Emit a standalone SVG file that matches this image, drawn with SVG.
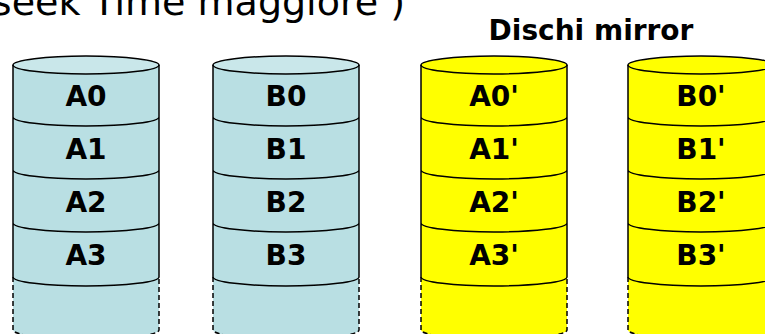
<svg xmlns="http://www.w3.org/2000/svg" width="765" height="334" viewBox="0 0 765 334">
<style>
.body{stroke:none}
.blue .body{fill:#B9DFE3}
.blue .top{fill:#C9E7EA}
.yellow .body{fill:#FFFF00}
.yellow .top{fill:#FFFF00}
.top,.ln{stroke:#000;stroke-width:1.5;fill:none}
.top{stroke-width:1.5}
.dash{stroke:#000;stroke-width:1.5;fill:none;stroke-dasharray:5 3}
.lbl{font-family:"DejaVu Sans",sans-serif;font-weight:bold;font-size:28px;fill:#000;text-anchor:middle}
.title{font-family:"DejaVu Sans",sans-serif;font-weight:bold;font-size:28px;fill:#000;text-anchor:middle}
.head{font-family:"DejaVu Sans",sans-serif;font-size:38px;fill:#000;text-anchor:end}
</style>
<rect width="765" height="334" fill="#fff"/>
<text class="head" x="405" y="15">seek Time maggiore )</text>
<text class="title" x="591" y="40">Dischi mirror</text>

<g id="diskA" class="blue">
<path class="body" d="M13,65 L13,330 A73,9 0 0 0 159,330 L159,65 Z"/>
<ellipse class="top" cx="86" cy="65" rx="73" ry="9"/>
<path class="ln" d="M13,65 V277 M159,65 V277 M13,117 A73,9 0 0 0 159,117 M13,170 A73,9 0 0 0 159,170 M13,223 A73,9 0 0 0 159,223 M13,277 A73,9 0 0 0 159,277"/>
<path class="dash" d="M13,277 V330 A73,9 0 0 0 159,330 V277"/>
<text class="lbl" x="86" y="106">A0</text>
<text class="lbl" x="86" y="159">A1</text>
<text class="lbl" x="86" y="212">A2</text>
<text class="lbl" x="86" y="265">A3</text>
</g>

<g id="diskB" class="blue">
<path class="body" d="M213,65 L213,330 A73,9 0 0 0 359,330 L359,65 Z"/>
<ellipse class="top" cx="286" cy="65" rx="73" ry="9"/>
<path class="ln" d="M213,65 V277 M359,65 V277 M213,117 A73,9 0 0 0 359,117 M213,170 A73,9 0 0 0 359,170 M213,223 A73,9 0 0 0 359,223 M213,277 A73,9 0 0 0 359,277"/>
<path class="dash" d="M213,277 V330 A73,9 0 0 0 359,330 V277"/>
<text class="lbl" x="286" y="106">B0</text>
<text class="lbl" x="286" y="159">B1</text>
<text class="lbl" x="286" y="212">B2</text>
<text class="lbl" x="286" y="265">B3</text>
</g>

<g id="mirrorA" class="yellow">
<path class="body" d="M421,65 L421,330 A73,9 0 0 0 567,330 L567,65 Z"/>
<ellipse class="top" cx="494" cy="65" rx="73" ry="9"/>
<path class="ln" d="M421,65 V277 M567,65 V277 M421,117 A73,9 0 0 0 567,117 M421,170 A73,9 0 0 0 567,170 M421,223 A73,9 0 0 0 567,223 M421,277 A73,9 0 0 0 567,277"/>
<path class="dash" d="M421,277 V330 A73,9 0 0 0 567,330 V277"/>
<text class="lbl" x="494" y="106">A0'</text>
<text class="lbl" x="494" y="159">A1'</text>
<text class="lbl" x="494" y="212">A2'</text>
<text class="lbl" x="494" y="265">A3'</text>
</g>

<g id="mirrorB" class="yellow">
<path class="body" d="M628,65 L628,330 A73,9 0 0 0 774,330 L774,65 Z"/>
<ellipse class="top" cx="701" cy="65" rx="73" ry="9"/>
<path class="ln" d="M628,65 V277 M774,65 V277 M628,117 A73,9 0 0 0 774,117 M628,170 A73,9 0 0 0 774,170 M628,223 A73,9 0 0 0 774,223 M628,277 A73,9 0 0 0 774,277"/>
<path class="dash" d="M628,277 V330 A73,9 0 0 0 774,330 V277"/>
<text class="lbl" x="701" y="106">B0'</text>
<text class="lbl" x="701" y="159">B1'</text>
<text class="lbl" x="701" y="212">B2'</text>
<text class="lbl" x="701" y="265">B3'</text>
</g>
</svg>
